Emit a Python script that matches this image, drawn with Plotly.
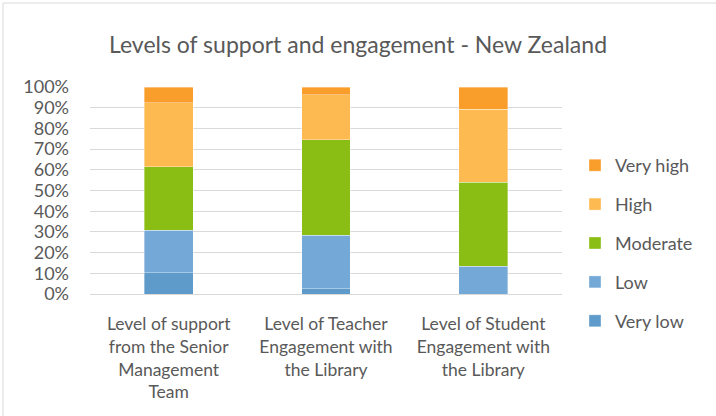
import plotly.graph_objects as go

categories = [
    "Level of support<br>from the Senior<br>Management<br>Team",
    "Level of Teacher<br>Engagement with<br>the Library",
    "Level of Student<br>Engagement with<br>the Library",
]
series_names = ["Very low", "Low", "Moderate", "High", "Very high"]
very_low = [10.3, 2.6, 0.0]
low = [20.5, 25.8, 13.5]
moderate = [30.8, 46.1, 40.5]
high = [30.8, 21.8, 35.1]
very_high = [7.7, 3.7, 10.8]
series_values = [very_low, low, moderate, high, very_high]
colors = ["#5E9ACA", "#74A9D7", "#8BBE15", "#FDBA50", "#F99D2B"]

FONT = "Lato"
TXT = "#595959"

fig = go.Figure()
n = len(series_names)
for i, (name, vals, col) in enumerate(zip(series_names, series_values, colors)):
    fig.add_trace(go.Bar(
        x=categories, y=vals, name=name, legendgroup=name, legendrank=n - i,
        marker=dict(color=col, line=dict(color="rgba(255,255,255,0.45)", width=0.8)),
    ))

W, H = 716, 416
L, R, T, B = 90, 154, 87, 122
pw = W - L - R
ph = H - T - B

def px_x(p):
    return (p - L) / pw

def px_y(p):
    return (H - B - p) / ph

fig.update_layout(
    width=W, height=H,
    margin=dict(l=L, r=R, t=T, b=B, pad=0),
    barmode="stack", barnorm="percent", bargap=0.69,
    plot_bgcolor="white", paper_bgcolor="white",
    font=dict(family=FONT, color=TXT, size=17),
    title=dict(text="Levels of support and engagement - New Zealand",
               x=0.5, xref="container", xanchor="center",
               y=1 - 45 / H, yref="container", yanchor="middle",
               font=dict(size=23, color=TXT, family=FONT)),
    xaxis=dict(showline=True, linecolor="#D9D9D9", linewidth=1, automargin=False,
               tickfont=dict(size=17.5, color=TXT), ticks="", showgrid=False,
               ticklabelstandoff=14),
    yaxis=dict(range=[0, 100], dtick=10, ticksuffix="%", showgrid=True, automargin=False,
               gridcolor="#D9D9D9", gridwidth=1, zeroline=False,
               tickfont=dict(size=18, color=TXT), ticklabelstandoff=20),
    legend=dict(x=px_x(575), xanchor="left", y=px_y(147), yanchor="top",
                traceorder="grouped", tracegroupgap=12.5,
                font=dict(size=18, color=TXT), bgcolor="rgba(0,0,0,0)"),
    shapes=[dict(type="rect", xref="paper", yref="paper",
                 x0=px_x(3), x1=px_x(730), y0=px_y(3), y1=px_y(430),
                 line=dict(color="#D9D9D9", width=1), fillcolor="rgba(0,0,0,0)", layer="below")],
)

fig.write_html("out.html", config={"displayModeBar": False},
               post_script="document.body.style.margin='0';")
